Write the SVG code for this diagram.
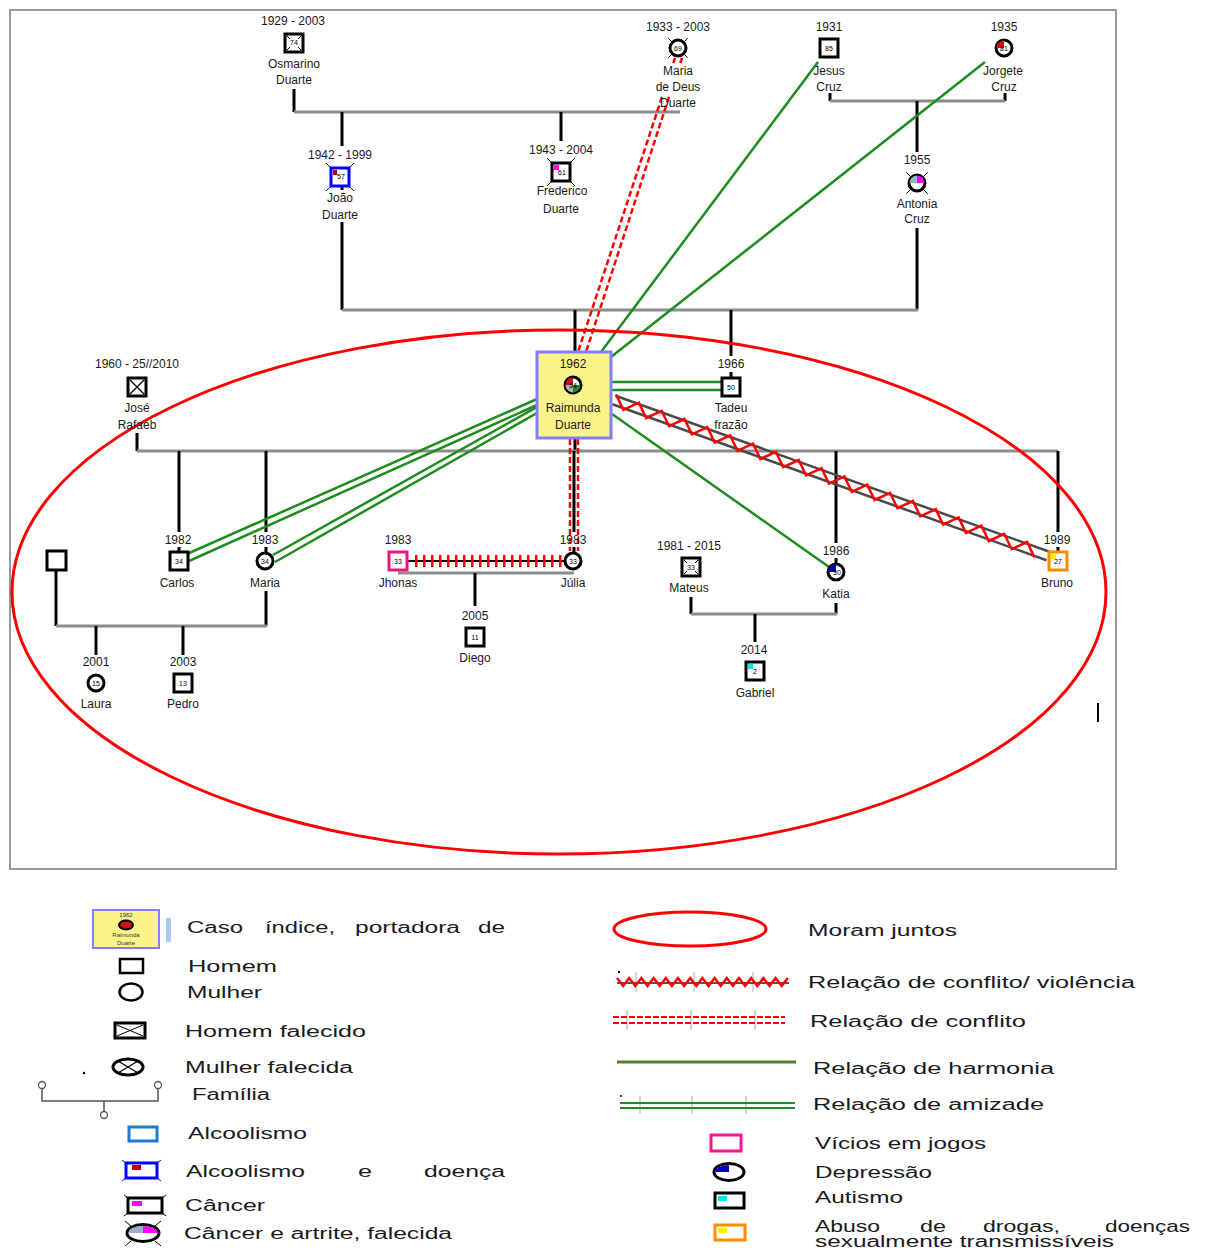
<svg xmlns="http://www.w3.org/2000/svg" width="1208" height="1248" viewBox="0 0 1208 1248">
<defs>
<style>
.t{font-family:"Liberation Sans",Arial,sans-serif;font-size:12px;text-anchor:middle;fill:#1a1a1a}
.n{font-family:"Liberation Sans",Arial,sans-serif;font-size:7px;text-anchor:middle;fill:#000}
.lg{font-family:"Liberation Sans",Arial,sans-serif;font-size:16px;fill:#1a1a1a}
.sq{fill:#fff;stroke:#000;stroke-width:3}
.ci{fill:#fff;stroke:#000;stroke-width:3}
.v{stroke:#000;stroke-width:3;fill:none}
.h{stroke:#8c8c8c;stroke-width:3;fill:none}
.cf{stroke:#ff0000;stroke-width:2.5;stroke-dasharray:6 3;fill:none}
.hg{stroke:#1e8c1e;stroke-width:2.5;fill:none}
.vi{stroke:#4a4a4a;stroke-width:2.5;fill:none}
.zz{stroke:#ff0000;stroke-width:2.5;fill:none;stroke-linejoin:miter}
.dm{stroke:#000;stroke-width:1;fill:none}
.tk{stroke:#c8c8c8;stroke-width:1.5}
</style>
</defs>
<rect width="1208" height="1248" fill="#fff"/>
<rect x="10" y="10" width="1106" height="859" fill="none" stroke="#9a9a9a" stroke-width="2"/>

<g id="connectors">
  <!-- family lines -->
  <line class="v" x1="294" y1="89" x2="294" y2="112"/>
  <line class="h" x1="294" y1="112" x2="680" y2="112"/>
  <line class="v" x1="342" y1="112" x2="342" y2="146"/>
  <line class="v" x1="342" y1="186" x2="342" y2="190"/>
  <line class="v" x1="342" y1="222" x2="342" y2="310"/>
  <line class="v" x1="561" y1="112" x2="561" y2="141"/>
  <line class="v" x1="830" y1="93" x2="830" y2="101"/>
  <line class="v" x1="1005" y1="93" x2="1005" y2="101"/>
  <line class="h" x1="830" y1="101" x2="1005" y2="101"/>
  <line class="v" x1="917" y1="101" x2="917" y2="152"/>
  <line class="v" x1="917" y1="228" x2="917" y2="310"/>
  <line class="h" x1="342" y1="310" x2="918" y2="310"/>
  <line class="v" x1="575" y1="310" x2="575" y2="352"/>
  <line class="v" x1="731" y1="310" x2="731" y2="356"/>
  <line class="v" x1="731" y1="372" x2="731" y2="378"/>
  <line class="v" x1="137" y1="433" x2="137" y2="451"/>
  <line class="v" x1="575" y1="438" x2="575" y2="451"/>
  <line class="h" x1="137" y1="451" x2="1058" y2="451"/>
  <line class="v" x1="179" y1="451" x2="179" y2="532"/>
  <line class="v" x1="179" y1="547" x2="179" y2="552"/>
  <line class="v" x1="266" y1="451" x2="266" y2="532"/>
  <line class="v" x1="266" y1="547" x2="266" y2="552"/>
  <line class="v" x1="574" y1="451" x2="574" y2="532"/>
  <line class="v" x1="574" y1="547" x2="574" y2="552"/>
  <line class="v" x1="836" y1="451" x2="836" y2="543"/>
  <line class="v" x1="836" y1="558" x2="836" y2="563"/>
  <line class="v" x1="1058" y1="451" x2="1058" y2="532"/>
  <line class="v" x1="1058" y1="547" x2="1058" y2="552"/>
  <line class="v" x1="56" y1="571" x2="56" y2="626"/>
  <line class="v" x1="266" y1="591" x2="266" y2="626"/>
  <line class="h" x1="56" y1="626" x2="267" y2="626"/>
  <line class="v" x1="96" y1="626" x2="96" y2="655"/>
  <line class="v" x1="183" y1="626" x2="183" y2="655"/>
  <line class="h" x1="398" y1="573" x2="574" y2="573"/>
  <line class="v" x1="475" y1="573" x2="475" y2="606"/>
  <line class="v" x1="691" y1="597" x2="691" y2="614"/>
  <line class="v" x1="836" y1="603" x2="836" y2="614"/>
  <line class="h" x1="691" y1="614" x2="837" y2="614"/>
  <line class="v" x1="755" y1="614" x2="755" y2="642"/>

  <!-- conflict (double dashed red) -->
  <line class="cf" x1="675" y1="58" x2="673.3" y2="63"/>
  <line class="cf" x1="682" y1="58" x2="680.3" y2="63"/>
  <line class="cf" x1="662" y1="97" x2="578" y2="352"/>
  <line class="cf" x1="669" y1="97" x2="586" y2="352"/>
  <line class="cf" x1="570" y1="439" x2="570" y2="551"/>
  <line class="cf" x1="578" y1="439" x2="578" y2="551"/>

  <!-- harmony (single green) -->
  <line class="hg" x1="818" y1="62" x2="601" y2="352"/>
  <line class="hg" x1="985" y1="62" x2="611" y2="357"/>
  <line class="hg" x1="612" y1="414" x2="829" y2="567"/>

  <!-- friendship (double green) -->
  <line class="hg" x1="611" y1="382" x2="722" y2="382"/>
  <line class="hg" x1="611" y1="390" x2="722" y2="390"/>
  <line class="hg" x1="537" y1="399" x2="187" y2="554"/>
  <line class="hg" x1="537" y1="405" x2="189" y2="561"/>
  <line class="hg" x1="537" y1="407" x2="273" y2="555"/>
  <line class="hg" x1="537" y1="413" x2="275" y2="562"/>

  <!-- conflict / violence -->
  <line class="vi" x1="615.5" y1="395.8" x2="1049.5" y2="551.8"/>
  <line class="vi" x1="612.5" y1="404.2" x2="1046.5" y2="560.2"/>
  <path class="zz" d="M616,394.4 l7.36,15.39 15.48,-7.19 l7.36,15.39 15.48,-7.19 l7.36,15.39 15.48,-7.19 l7.36,15.39 15.48,-7.19 l7.36,15.39 15.48,-7.19 l7.36,15.39 15.48,-7.19 l7.36,15.39 15.48,-7.19 l7.36,15.39 15.48,-7.19 l7.36,15.39 15.48,-7.19 l7.36,15.39 15.48,-7.19 l7.36,15.39 15.48,-7.19 l7.36,15.39 15.48,-7.19 l7.36,15.39 15.48,-7.19 l7.36,15.39 15.48,-7.19 l7.36,15.39 15.48,-7.19 l7.36,15.39 15.48,-7.19 l7.36,15.39 15.48,-7.19 l7.36,15.39 15.48,-7.19 l7.36,15.39"/>

  <!-- Jhonas - Júlia separation -->
  <line x1="407" y1="561" x2="564" y2="561" stroke="#000" stroke-width="2"/>
  <line x1="415" y1="561" x2="562" y2="561" stroke="#ff0000" stroke-width="12" stroke-dasharray="2.5 5.5"/>
</g>

<ellipse id="moram-juntos" cx="559" cy="592" rx="547" ry="262" fill="none" stroke="#ff0000" stroke-width="3"/>
<line x1="1098" y1="703" x2="1098" y2="722" stroke="#000" stroke-width="2"/>

<g id="osmarino">
  <text class="t" x="293" y="25">1929 - 2003</text>
  <rect class="sq" x="285" y="34" width="18" height="18"/>
  <path class="dm" d="M287,36 l3,3 M301,36 l-3,3 M287,50 l3,-3 M301,50 l-3,-3"/>
  <text class="n" x="294" y="45">74</text>
  <text class="t" x="294" y="68">Osmarino</text>
  <text class="t" x="294" y="84">Duarte</text>
</g>
<g id="joao">
  <text class="t" x="340" y="159">1942 - 1999</text>
  <path d="M331,168 l-5,-5 M349,168 l5,-5 M331,186 l-5,5 M349,186 l5,5" stroke="#0000ff" stroke-width="1"/>
  <rect x="331" y="168" width="18" height="18" fill="#fff" stroke="#0000ff" stroke-width="3"/>
  <rect x="333" y="170" width="4" height="5" fill="#c00000"/>
  <text class="n" x="341" y="179">57</text>
  <text class="t" x="340" y="202">João</text>
  <text class="t" x="340" y="219">Duarte</text>
</g>
<g id="frederico">
  <text class="t" x="561" y="154">1943 - 2004</text>
  <path class="dm" d="M552,163 l-5,-5 M570,163 l5,-5 M552,181 l-5,5 M570,181 l5,5"/>
  <rect class="sq" x="552" y="163" width="18" height="18"/>
  <rect x="554" y="165" width="5" height="5" fill="#ff00ff"/>
  <text class="n" x="562" y="175">61</text>
  <text class="t" x="562" y="195">Frederico</text>
  <text class="t" x="561" y="213">Duarte</text>
</g>
<g id="maria-de-deus">
  <text class="t" x="678" y="31">1933 - 2003</text>
  <path class="dm" d="M671.3,41.3 l-3,-3 M684.7,41.3 l3,-3 M671.3,54.7 l-3,3 M684.7,54.7 l3,3"/>
  <circle class="ci" cx="678" cy="48" r="8"/>
  <text class="n" x="678" y="50.5">69</text>
  <text class="t" x="678" y="75">Maria</text>
  <text class="t" x="678" y="91">de Deus</text>
  <text class="t" x="678" y="107">Duarte</text>
</g>
<g id="jesus-cruz">
  <text class="t" x="829" y="31">1931</text>
  <rect class="sq" x="820" y="39" width="18" height="18"/>
  <text class="n" x="829" y="50.5">85</text>
  <text class="t" x="829" y="75">Jesus</text>
  <text class="t" x="829" y="91">Cruz</text>
</g>
<g id="jorgete-cruz">
  <text class="t" x="1004" y="31">1935</text>
  <circle class="ci" cx="1004" cy="48" r="8"/>
  <path d="M1004,48 L996.5,48 A7.5,7.5 0 0 1 1004,40.5 Z" fill="#e00000"/>
  <text class="n" x="1004" y="50.5">81</text>
  <text class="t" x="1003" y="75">Jorgete</text>
  <text class="t" x="1004" y="91">Cruz</text>
</g>
<g id="antonia-cruz">
  <text class="t" x="917" y="164">1955</text>
  <path class="dm" d="M910.3,176.3 l-4,-4 M923.7,176.3 l4,-4 M910.3,189.7 l-4,4 M923.7,189.7 l4,4"/>
  <circle class="ci" cx="917" cy="183" r="8"/>
  <path d="M917,183 L909.5,183 A7.5,7.5 0 0 1 917,175.5 Z" fill="#a3abc8"/>
  <path d="M917,183 L917,175.5 A7.5,7.5 0 0 1 924.5,183 Z" fill="#ff00ff"/>
  <text class="t" x="917" y="208">Antonia</text>
  <text class="t" x="917" y="223">Cruz</text>
</g>
<g id="raimunda-duarte">
  <rect x="537" y="352" width="74" height="86" fill="#faf38a" stroke="#7f7fff" stroke-width="3"/>
  <text class="t" x="573" y="368">1962</text>
  <circle class="ci" cx="573" cy="385" r="8"/>
  <path d="M573,385 L565.5,385 A7.5,7.5 0 0 1 573,377.5 Z" fill="#d01010"/>
  <path d="M573,385 L580.5,385 A7.5,7.5 0 0 1 573,392.5 Z" fill="#1c8a1c"/>
  <path d="M573,385 L573,392.5 A7.5,7.5 0 0 1 565.5,385 Z" fill="#b0b0b0"/>
  <text class="n" x="573" y="387.5">54</text>
  <text class="t" x="573" y="412">Raimunda</text>
  <text class="t" x="573" y="429">Duarte</text>
</g>
<g id="tadeu">
  <text class="t" x="731" y="368">1966</text>
  <rect class="sq" x="722" y="378" width="18" height="18"/>
  <text class="n" x="731" y="389.5">50</text>
  <text class="t" x="731" y="412">Tadeu</text>
  <text class="t" x="731" y="429">frazão</text>
</g>
<g id="jose-rafaeb">
  <text class="t" x="137" y="368">1960 - 25//2010</text>
  <rect class="sq" x="128" y="378" width="18" height="18"/>
  <path d="M130,380 L144,394 M144,380 L130,394" stroke="#000" stroke-width="1.3"/>
  <text class="t" x="137" y="412">José</text>
  <text class="t" x="137" y="429">Rafaeb</text>
</g>
<g id="carlos">
  <text class="t" x="178" y="544">1982</text>
  <rect class="sq" x="170" y="552" width="18" height="18"/>
  <text class="n" x="179" y="563.5">34</text>
  <text class="t" x="177" y="587">Carlos</text>
</g>
<g id="maria">
  <text class="t" x="265" y="544">1983</text>
  <circle class="ci" cx="265" cy="561" r="8"/>
  <text class="n" x="265" y="563.5">34</text>
  <text class="t" x="265" y="587">Maria</text>
</g>
<g id="homem">
  <rect class="sq" x="47" y="551" width="19" height="19"/>
</g>
<g id="laura">
  <text class="t" x="96" y="666">2001</text>
  <circle class="ci" cx="96" cy="683" r="8"/>
  <text class="n" x="96" y="685.5">15</text>
  <text class="t" x="96" y="708">Laura</text>
</g>
<g id="pedro">
  <text class="t" x="183" y="666">2003</text>
  <rect class="sq" x="174" y="674" width="18" height="18"/>
  <text class="n" x="183" y="685.5">13</text>
  <text class="t" x="183" y="708">Pedro</text>
</g>
<g id="jhonas">
  <text class="t" x="398" y="544">1983</text>
  <rect x="389" y="552" width="18" height="18" fill="#fff" stroke="#e8177d" stroke-width="3"/>
  <text class="n" x="398" y="563.5">33</text>
  <text class="t" x="398" y="587">Jhonas</text>
</g>
<g id="julia">
  <text class="t" x="573" y="544">1983</text>
  <circle class="ci" cx="573" cy="561" r="8"/>
  <text class="n" x="573" y="563.5">33</text>
  <text class="t" x="573" y="587">Júlia</text>
</g>
<g id="diego">
  <text class="t" x="475" y="620">2005</text>
  <rect class="sq" x="466" y="628" width="18" height="18"/>
  <text class="n" x="475" y="639.5">11</text>
  <text class="t" x="475" y="662">Diego</text>
</g>
<g id="mateus">
  <text class="t" x="689" y="550">1981 - 2015</text>
  <rect class="sq" x="682" y="558" width="18" height="18"/>
  <path class="dm" d="M684,560 l3,3 M698,560 l-3,3 M684,574 l3,-3 M698,574 l-3,-3"/>
  <text class="n" x="691" y="569.5">33</text>
  <text class="t" x="689" y="592">Mateus</text>
</g>
<g id="katia">
  <text class="t" x="836" y="555">1986</text>
  <circle class="ci" cx="836" cy="572" r="8"/>
  <path d="M836,572 L828.5,572 A7.5,7.5 0 0 1 836,564.5 Z" fill="#0000cc"/>
  <text class="n" x="837" y="574.5">30</text>
  <text class="t" x="836" y="598">Katia</text>
</g>
<g id="gabriel">
  <text class="t" x="754" y="654">2014</text>
  <rect class="sq" x="746" y="662" width="18" height="18"/>
  <rect x="748" y="664" width="5" height="5" fill="#00e5e5"/>
  <text class="n" x="755" y="673.5">2</text>
  <text class="t" x="755" y="697">Gabriel</text>
</g>
<g id="bruno">
  <text class="t" x="1057" y="544">1989</text>
  <rect x="1049" y="552" width="18" height="18" fill="#fff" stroke="#ff8c00" stroke-width="3"/>
  <rect x="1051" y="554" width="5" height="5" fill="#ffee00"/>
  <text class="n" x="1058" y="563.5">27</text>
  <text class="t" x="1057" y="587">Bruno</text>
</g>

<g id="legend">
  <rect x="93" y="910" width="66" height="38" fill="#faf38a" stroke="#7f7fff" stroke-width="2"/>
  <text x="126" y="917" font-family="Liberation Sans, Arial, sans-serif" font-size="6" text-anchor="middle" fill="#333">1962</text>
  <ellipse cx="126" cy="925" rx="7" ry="4.5" fill="#d01010" stroke="#000" stroke-width="2"/>
  <text x="126" y="937" font-family="Liberation Sans, Arial, sans-serif" font-size="6" text-anchor="middle" fill="#333">Raimunda</text>
  <text x="126" y="945" font-family="Liberation Sans, Arial, sans-serif" font-size="6" text-anchor="middle" fill="#333">Duarte</text>
  <rect x="166" y="918" width="5" height="24" fill="#a9cbef"/>
  <text class="lg" x="187" y="933" textLength="56" lengthAdjust="spacingAndGlyphs">Caso</text>
  <text class="lg" x="265" y="933" textLength="70" lengthAdjust="spacingAndGlyphs">índice,</text>
  <text class="lg" x="355" y="933" textLength="105" lengthAdjust="spacingAndGlyphs">portadora</text>
  <text class="lg" x="478" y="933" textLength="27" lengthAdjust="spacingAndGlyphs">de</text>

  <rect x="120" y="959" width="23" height="14" fill="none" stroke="#000" stroke-width="2.5"/>
  <text class="lg" x="188" y="972" textLength="89" lengthAdjust="spacingAndGlyphs">Homem</text>
  <ellipse cx="131" cy="992" rx="11.5" ry="8.5" fill="none" stroke="#000" stroke-width="2.5"/>
  <text class="lg" x="187" y="998" textLength="75" lengthAdjust="spacingAndGlyphs">Mulher</text>

  <rect x="115" y="1023" width="30" height="15" fill="none" stroke="#000" stroke-width="3"/>
  <path d="M117,1025 L143,1036 M143,1025 L117,1036" stroke="#000" stroke-width="1"/>
  <text class="lg" x="185" y="1037" textLength="181" lengthAdjust="spacingAndGlyphs">Homem falecido</text>

  <circle cx="84" cy="1073" r="1.2" fill="#000"/>
  <ellipse cx="128" cy="1067" rx="15" ry="8" fill="none" stroke="#000" stroke-width="3"/>
  <path d="M118,1061 L138,1073 M138,1061 L118,1073" stroke="#000" stroke-width="1.2"/>
  <text class="lg" x="185" y="1073" textLength="168" lengthAdjust="spacingAndGlyphs">Mulher falecida</text>

  <path d="M42,1087 L42,1101 L158,1101 L158,1088 M104,1101 L104,1112" fill="none" stroke="#555" stroke-width="1.5"/>
  <circle cx="42" cy="1085" r="3.5" fill="#fff" stroke="#555" stroke-width="1.3"/>
  <circle cx="158" cy="1085" r="3.5" fill="#fff" stroke="#555" stroke-width="1.3"/>
  <circle cx="104" cy="1115" r="3.5" fill="#fff" stroke="#555" stroke-width="1.3"/>
  <text class="lg" x="192" y="1100" textLength="78" lengthAdjust="spacingAndGlyphs">Família</text>

  <rect x="129" y="1127" width="28" height="14" fill="none" stroke="#1c7cd0" stroke-width="3"/>
  <text class="lg" x="188" y="1139" textLength="119" lengthAdjust="spacingAndGlyphs">Alcoolismo</text>

  <path d="M126,1163 l-4,-3 M157,1163 l4,-3 M126,1178 l-4,3 M157,1178 l4,3" stroke="#0000ff" stroke-width="1"/>
  <rect x="126" y="1163" width="31" height="15" fill="#fff" stroke="#0000ff" stroke-width="3"/>
  <rect x="132" y="1165" width="9" height="5" fill="#c00000"/>
  <text class="lg" x="186" y="1177" textLength="119" lengthAdjust="spacingAndGlyphs">Alcoolismo</text>
  <text class="lg" x="358" y="1177" textLength="14" lengthAdjust="spacingAndGlyphs">e</text>
  <text class="lg" x="424" y="1177" textLength="81" lengthAdjust="spacingAndGlyphs">doença</text>

  <path d="M128,1198 l-4,-3 M162,1198 l4,-3 M128,1213 l-4,3 M162,1213 l4,3" stroke="#000" stroke-width="1"/>
  <rect x="128" y="1198" width="34" height="15" fill="#fff" stroke="#000" stroke-width="3"/>
  <rect x="132" y="1201" width="10" height="5" fill="#ff00ff"/>
  <text class="lg" x="185" y="1211" textLength="80" lengthAdjust="spacingAndGlyphs">Câncer</text>

  <path d="M131,1226 l-6,-5 M155,1226 l6,-5 M131,1241 l-6,5 M155,1241 l6,5" stroke="#000" stroke-width="1"/>
  <ellipse cx="143" cy="1233" rx="16" ry="8.5" fill="#fff" stroke="#000" stroke-width="3"/>
  <path d="M143,1233 L128.5,1233 A14.5,7 0 0 1 143,1226 Z" fill="#a3abc8"/>
  <path d="M143,1233 L143,1226 A14.5,7 0 0 1 157.5,1233 Z" fill="#ff00ff"/>
  <text class="lg" x="184" y="1239" textLength="268" lengthAdjust="spacingAndGlyphs">Câncer e artrite, falecida</text>

  <!-- right column -->
  <ellipse cx="690" cy="929" rx="76" ry="17" fill="none" stroke="#ff0000" stroke-width="3"/>
  <text class="lg" x="808" y="936" textLength="149" lengthAdjust="spacingAndGlyphs">Moram juntos</text>

  <line class="tk" x1="636" y1="972" x2="636" y2="992"/>
  <line class="tk" x1="694" y1="972" x2="694" y2="992"/>
  <line class="tk" x1="753" y1="972" x2="753" y2="992"/>
  <circle cx="619" cy="972" r="1.2" fill="#000"/>
  <line x1="617" y1="983" x2="789" y2="983" stroke="#555" stroke-width="2"/>
  <path class="zz" d="M617,978 l6.1,8 6.1,-8 l6.1,8 6.1,-8 l6.1,8 6.1,-8 l6.1,8 6.1,-8 l6.1,8 6.1,-8 l6.1,8 6.1,-8 l6.1,8 6.1,-8 l6.1,8 6.1,-8 l6.1,8 6.1,-8 l6.1,8 6.1,-8 l6.1,8 6.1,-8 l6.1,8 6.1,-8 l6.1,8 6.1,-8 l6.1,8 6.1,-8"/>
  <text class="lg" x="808" y="988" textLength="327" lengthAdjust="spacingAndGlyphs">Relação  de conflito/ violência</text>

  <line class="tk" x1="627" y1="1010" x2="627" y2="1030"/>
  <line class="tk" x1="691" y1="1010" x2="691" y2="1030"/>
  <line class="tk" x1="755" y1="1010" x2="755" y2="1030"/>
  <line x1="613" y1="1017" x2="785" y2="1017" stroke="#ff0000" stroke-width="2" stroke-dasharray="6 2"/>
  <line x1="613" y1="1023" x2="785" y2="1023" stroke="#ff0000" stroke-width="2" stroke-dasharray="6 2"/>
  <text class="lg" x="810" y="1027" textLength="216" lengthAdjust="spacingAndGlyphs">Relação  de conflito</text>

  <line x1="617" y1="1062" x2="796" y2="1062" stroke="#4f7f2f" stroke-width="3"/>
  <text class="lg" x="813" y="1074" textLength="241" lengthAdjust="spacingAndGlyphs">Relação  de harmonia</text>

  <line class="tk" x1="640" y1="1096" x2="640" y2="1114"/>
  <line class="tk" x1="692" y1="1096" x2="692" y2="1114"/>
  <line class="tk" x1="746" y1="1096" x2="746" y2="1114"/>
  <circle cx="621" cy="1096" r="1" fill="#000"/>
  <line x1="620" y1="1103" x2="795" y2="1103" stroke="#1e8c1e" stroke-width="2"/>
  <line x1="620" y1="1108" x2="795" y2="1108" stroke="#1e8c1e" stroke-width="2"/>
  <text class="lg" x="813" y="1110" textLength="231" lengthAdjust="spacingAndGlyphs">Relação  de amizade</text>

  <rect x="711" y="1135" width="30" height="16" fill="none" stroke="#ff1493" stroke-width="3"/>
  <text class="lg" x="815" y="1149" textLength="171" lengthAdjust="spacingAndGlyphs">Vícios em jogos</text>

  <ellipse cx="729" cy="1172" rx="15" ry="8.5" fill="#fff" stroke="#000" stroke-width="3"/>
  <path d="M729,1172 L715.5,1172 A13.5,7 0 0 1 729,1165 Z" fill="#0000cc"/>
  <text class="lg" x="815" y="1178" textLength="117" lengthAdjust="spacingAndGlyphs">Depressão</text>

  <rect x="715" y="1193" width="29" height="15" fill="#fff" stroke="#000" stroke-width="3"/>
  <rect x="718" y="1196" width="9" height="5" fill="#00e5e5"/>
  <text class="lg" x="815" y="1203" textLength="88" lengthAdjust="spacingAndGlyphs">Autismo</text>

  <rect x="715" y="1225" width="30" height="15" fill="#fff" stroke="#ff8c00" stroke-width="3"/>
  <rect x="718" y="1228" width="9" height="5" fill="#ffee00"/>
  <text class="lg" x="815" y="1232" textLength="65" lengthAdjust="spacingAndGlyphs">Abuso</text>
  <text class="lg" x="920" y="1232" textLength="26" lengthAdjust="spacingAndGlyphs">de</text>
  <text class="lg" x="983" y="1232" textLength="77" lengthAdjust="spacingAndGlyphs">drogas,</text>
  <text class="lg" x="1105" y="1232" textLength="85" lengthAdjust="spacingAndGlyphs">doenças</text>
  <text class="lg" x="815" y="1247" textLength="299" lengthAdjust="spacingAndGlyphs">sexualmente transmissíveis</text>
</g>
</svg>
